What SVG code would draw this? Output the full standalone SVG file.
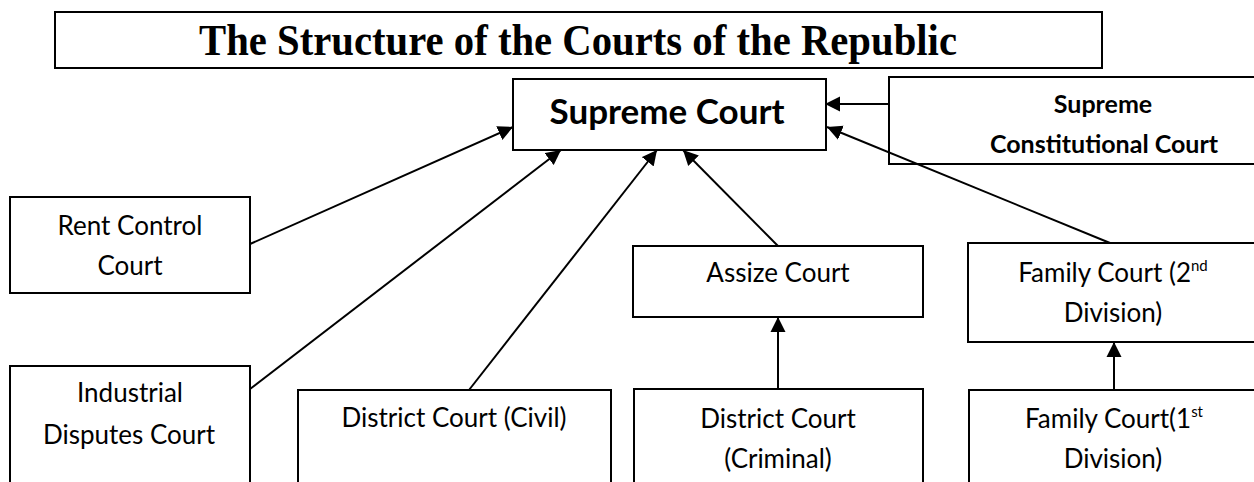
<svg xmlns="http://www.w3.org/2000/svg" width="1254" height="482" viewBox="0 0 1254 482">
  <style>
    .box { fill: #fff; stroke: #000; stroke-width: 2; }
    .lbl { font-family: Lato, "Open Sans", "Liberation Sans", sans-serif; font-size: 26px; fill: #000; text-anchor: middle; }
    .b { font-weight: bold; }
    .sup { font-size: 15px; }
    .title { font-family: "Liberation Serif", serif; font-weight: bold; font-size: 45px; text-anchor: middle; fill: #000; }
    .conn { stroke: #000; stroke-width: 2; fill: none; marker-end: url(#arrow); }
  </style>
  <defs>
    <marker id="arrow" markerUnits="userSpaceOnUse" markerWidth="16" markerHeight="16" viewBox="0 0 16 16" refX="15" refY="8" orient="auto">
      <path d="M0,0.5 L15,8 L0,15.5 Z" fill="#000"/>
    </marker>
  </defs>
  <rect width="1254" height="482" fill="#fff"/>

  <g id="title">
    <rect class="box" x="55" y="12" width="1047" height="56"/>
    <text class="title" x="578" y="55" textLength="758" lengthAdjust="spacingAndGlyphs">The Structure of the Courts of the Republic</text>
  </g>

  <g id="supreme-court">
    <rect class="box" x="513" y="79" width="313" height="71"/>
    <text class="lbl b" x="667" y="124" style="font-size:35px">Supreme Court</text>
  </g>

  <g id="supreme-constitutional-court">
    <rect class="box" x="889" y="77" width="380" height="87"/>
    <text class="lbl b" x="1103" y="113" style="font-size:25px">Supreme</text>
    <text class="lbl b" x="1104" y="153" style="font-size:25px">Constitutional Court</text>
  </g>

  <g id="rent-control-court">
    <rect class="box" x="10" y="197" width="240" height="96"/>
    <text class="lbl" x="130" y="235">Rent Control</text>
    <text class="lbl" x="130" y="275">Court</text>
  </g>

  <g id="industrial-disputes-court">
    <rect class="box" x="10" y="366" width="240" height="130"/>
    <text class="lbl" x="130" y="402">Industrial</text>
    <text class="lbl" x="129" y="444">Disputes Court</text>
  </g>

  <g id="district-court-civil">
    <rect class="box" x="298" y="390" width="313" height="110"/>
    <text class="lbl" x="454" y="427">District Court (Civil)</text>
  </g>

  <g id="assize-court">
    <rect class="box" x="633" y="246" width="290" height="71"/>
    <text class="lbl" x="778" y="282">Assize Court</text>
  </g>

  <g id="district-court-criminal">
    <rect class="box" x="634" y="389" width="289" height="110"/>
    <text class="lbl" x="778" y="428">District Court</text>
    <text class="lbl" x="778" y="468">(Criminal)</text>
  </g>

  <g id="family-court-2">
    <rect class="box" x="968" y="243" width="300" height="99"/>
    <text class="lbl" x="1113" y="282">Family Court (2<tspan class="sup" dy="-11">nd</tspan></text>
    <text class="lbl" x="1113" y="322">Division)</text>
  </g>

  <g id="family-court-1">
    <rect class="box" x="969" y="390" width="300" height="110"/>
    <text class="lbl" x="1114" y="428">Family Court(1<tspan class="sup" dy="-11">st</tspan></text>
    <text class="lbl" x="1113" y="468">Division)</text>
  </g>

  <g id="connectors">
    <line class="conn" x1="889" y1="104" x2="825" y2="104"/>
    <line class="conn" x1="1110" y1="243" x2="827" y2="127"/>
    <line class="conn" x1="250" y1="244" x2="513" y2="127"/>
    <line class="conn" x1="250" y1="389" x2="561" y2="150"/>
    <line class="conn" x1="469" y1="390" x2="657" y2="150"/>
    <line class="conn" x1="778" y1="246" x2="683" y2="150"/>
    <line class="conn" x1="778" y1="389" x2="778" y2="317"/>
    <line class="conn" x1="1114" y1="390" x2="1114" y2="342"/>
  </g>
</svg>
